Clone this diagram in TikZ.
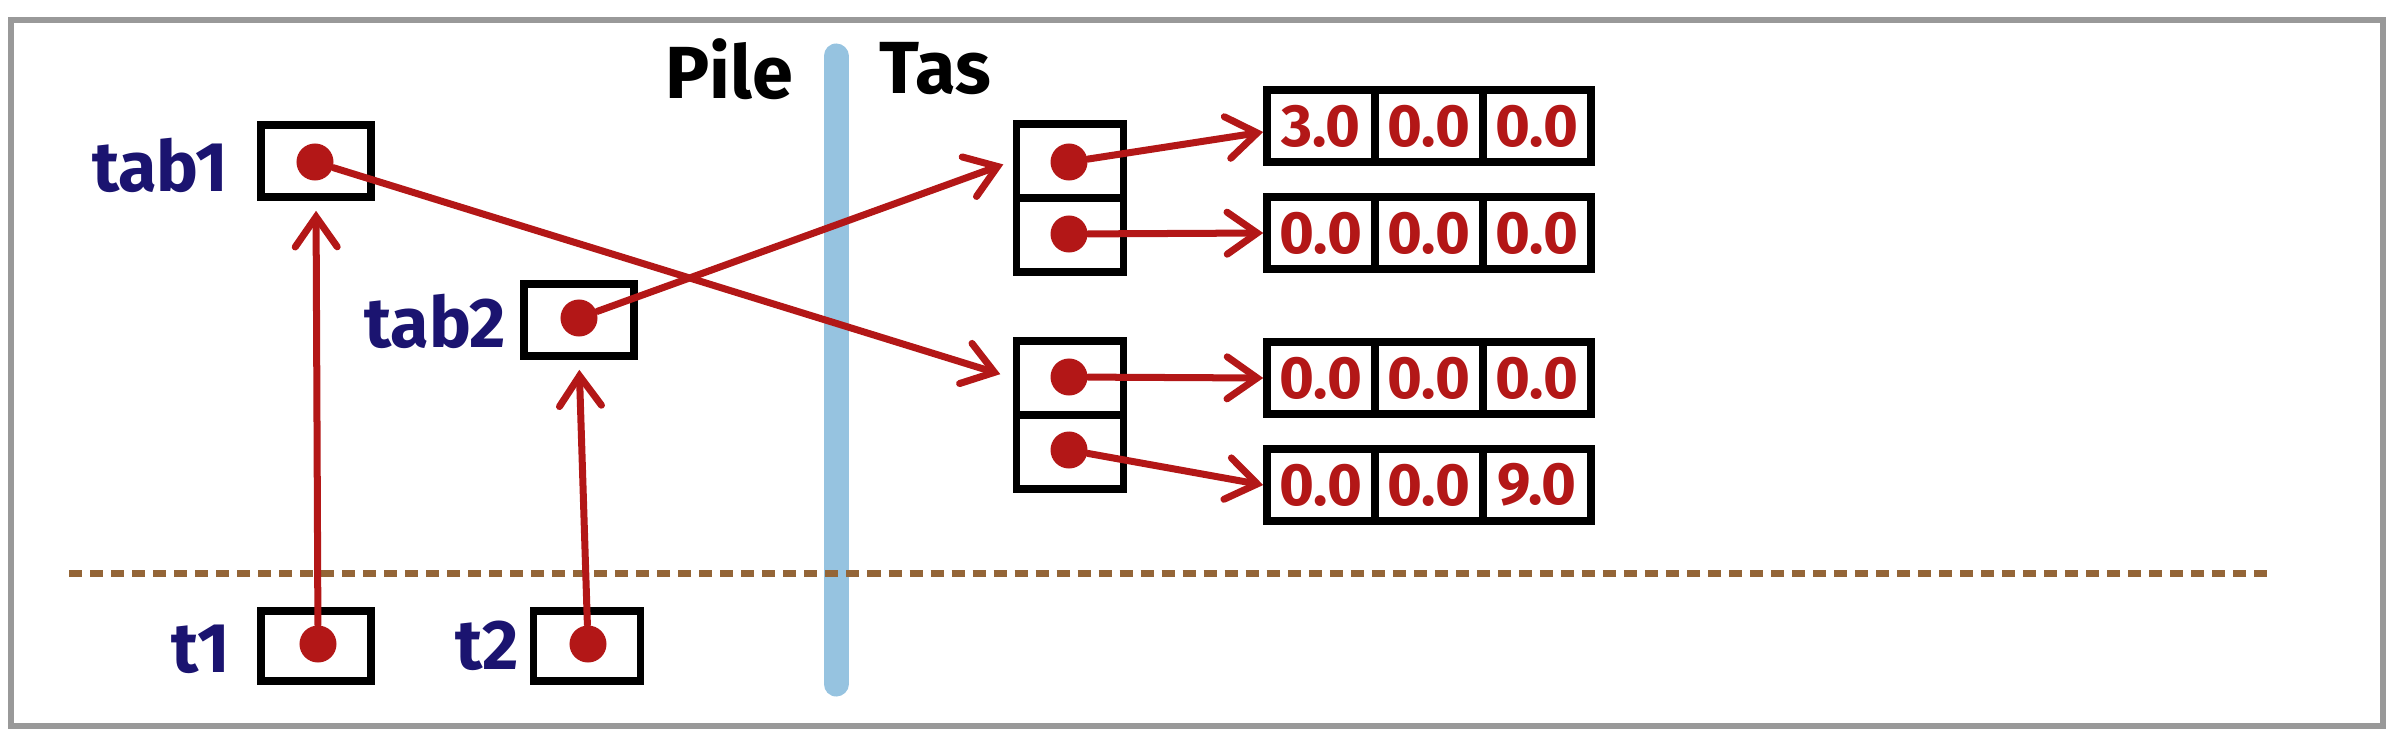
\documentclass[tikz,border=0pt]{standalone}
\usepackage{fontspec}
\setmainfont{Fira Sans}
\usetikzlibrary{arrows.meta}
\definecolor{ptr}{HTML}{B31717}
\definecolor{lbl}{HTML}{1B1470}
\definecolor{sep}{HTML}{96C3E0}
\definecolor{scopeline}{HTML}{946537}
\definecolor{framegray}{HTML}{999999}
\tikzset{
  var/.style={draw, line width=0.075cm, minimum width=1.1cm, minimum height=0.72cm, inner sep=0pt},
  cell/.style={draw, line width=0.075cm, minimum width=1.08cm, minimum height=0.72cm, inner sep=0pt,
    text=ptr, font=\fontsize{17}{17}\selectfont\bfseries},
  slot/.style={draw, line width=0.075cm, minimum width=1.07cm, minimum height=0.74cm, inner sep=0pt},
  dot/.style={circle, fill=ptr, minimum size=0.37cm, inner sep=0pt},
  ref/.style={ptr, line width=0.07cm, line cap=round, line join=round,
    -{Straight Barb[length=0.3cm, width=0.42cm, line cap=round]}},
  varname/.style={lbl, font=\fontsize{20}{20}\selectfont\bfseries},
  zone/.style={font=\fontsize{21}{21}\selectfont\bfseries},
}
\begin{document}
\begin{tikzpicture}[x=0.01cm, y=-0.01cm]
  \useasboundingbox (0,0) rectangle (2394,736);
  \draw[framegray, line width=0.06cm] (11,20) rectangle (2383,726);

  % Stack / heap separation
  \draw[sep, line width=0.25cm, line cap=round] (836,56) -- (836,684);
  \node[zone] (pile) at (729,69) {Pile};
  \node[zone] (tas) at (935,69) {Tas};
  \draw[scopeline, line width=0.07cm, dash pattern=on 0.13cm off 0.08cm] (69,573) -- (2271,573);

  % Stack: references
  \node[var] (tab1) at (316,161) {};
  \node[varname] at (160,165) {tab1};
  \node[var] (tab2) at (579,320) {};
  \node[varname] at (435,321) {tab2};
  \node[var, minimum height=0.7cm] (t1) at (316,646) {};
  \node[varname] at (201,649) {t1};
  \node[var, minimum width=1.07cm, minimum height=0.7cm] (t2) at (587,646) {};
  \node[varname] at (487,646) {t2};

  % Heap: arrays of references
  \node[slot] (h1) at (1070,161) {};
  \node[slot] (h2) at (1070,235) {};
  \node[slot] (h3) at (1070,378) {};
  \node[slot] (h4) at (1070,452) {};

  % Heap: arrays of values
  \node[cell] (r1a) at (1321,126) {3.0}; \node[cell] (r1b) at (1429,126) {0.0}; \node[cell] (r1c) at (1537,126) {0.0};
  \node[cell] (r2a) at (1321,233) {0.0}; \node[cell] (r2b) at (1429,233) {0.0}; \node[cell] (r2c) at (1537,233) {0.0};
  \node[cell] (r3a) at (1321,378) {0.0}; \node[cell] (r3b) at (1429,378) {0.0}; \node[cell] (r3c) at (1537,378) {0.0};
  \node[cell] (r4a) at (1321,485) {0.0}; \node[cell] (r4b) at (1429,485) {0.0}; \node[cell] (r4c) at (1537,485) {9.0};

  % Dots
  \node[dot] (dtab1) at (315,162) {};
  \node[dot] (dtab2) at (579,318) {};
  \node[dot] (dt1) at (318,644) {};
  \node[dot] (dt2) at (588,644) {};
  \node[dot] (dh1) at (1069,162) {};
  \node[dot] (dh2) at (1069,234) {};
  \node[dot] (dh3) at (1069,377) {};
  \node[dot] (dh4) at (1069,450) {};

  % References
  \draw[ref, shorten >=0.1cm] (dt1) -- (tab1.south);
  \draw[ref, shorten >=0.1cm] (dt2) -- (tab2.south);
  \draw[ref, shorten >=0.13cm] (dtab1) -- (h3.west);
  \draw[ref, shorten >=0.1cm] (dtab2) -- (h1.west);
  \draw[ref] (dh1) -- ([yshift=-0.06cm]r1a.west);
  \draw[ref] (dh2) -- (r2a.west);
  \draw[ref] (dh3) -- (r3a.west);
  \draw[ref] (dh4) -- (r4a.west);
\end{tikzpicture}
\end{document}
